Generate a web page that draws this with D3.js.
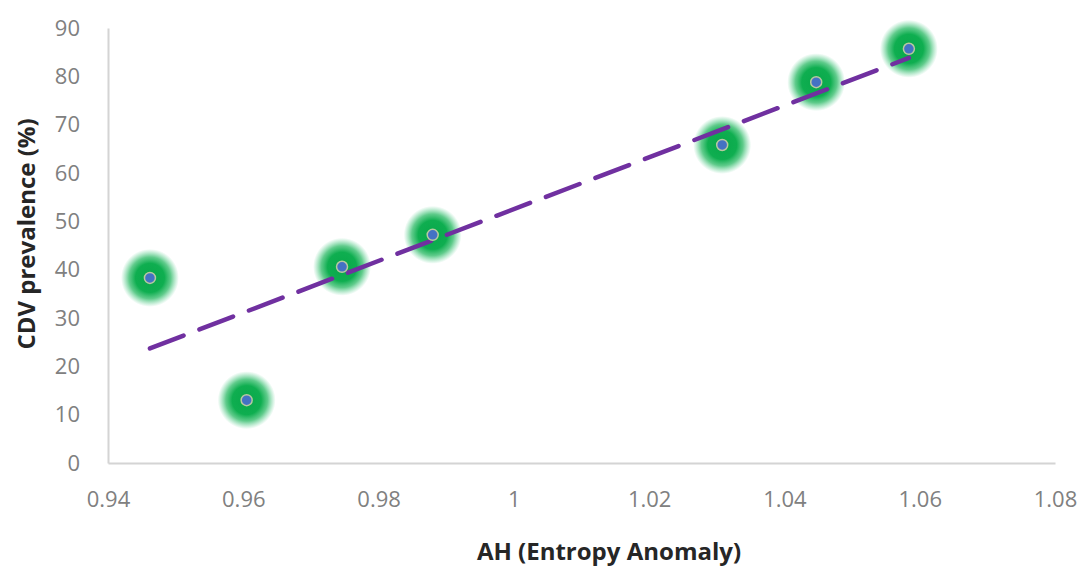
<!DOCTYPE html>
<html>
<head>
<meta charset="utf-8">
<script src="https://cdn.jsdelivr.net/npm/d3@7"></script>
<style>
  body { margin: 0; background: #fff; }
  text { font-family: "Open Sans", "Liberation Sans", sans-serif; }
</style>
</head>
<body>
<div id="chart"></div>
<script>
// AH (entropy anomaly) vs CDV prevalence
const ahValues = [0.9462, 0.9605, 0.9746, 0.9880, 1.0308, 1.0447, 1.0584];
const cdvValues = [38.3, 13.0, 40.6, 47.2, 65.8, 78.8, 85.7];
const xTicks = [0.94, 0.96, 0.98, 1, 1.02, 1.04, 1.06, 1.08];
const yTicks = [0, 10, 20, 30, 40, 50, 60, 70, 80, 90];

const width = 1091, height = 567;
const margin = { left: 108, right: 36, top: 28, bottom: 104 };

const svg = d3.select('#chart').append('svg')
  .attr('width', width)
  .attr('height', height);

const x = d3.scaleLinear().domain([0.94, 1.08]).range([margin.left, width - margin.right]);
const y = d3.scaleLinear().domain([0, 90]).range([height - margin.bottom, margin.top]);

// glow for the markers
const defs = svg.append('defs');
const grad = defs.append('radialGradient').attr('id', 'glow');
grad.append('stop').attr('offset', '0%').attr('stop-color', '#08a84a');
grad.append('stop').attr('offset', '50%').attr('stop-color', '#0fae50');
grad.append('stop').attr('offset', '72%').attr('stop-color', '#1cb55a').attr('stop-opacity', 0.7);
grad.append('stop').attr('offset', '100%').attr('stop-color', '#40c880').attr('stop-opacity', 0);

// axes
const xAxis = svg.append('g')
  .attr('transform', `translate(0,${y(0)})`)
  .call(d3.axisBottom(x).tickValues(xTicks).tickSize(0).tickPadding(28).tickFormat(d3.format('')));
const yAxis = svg.append('g')
  .attr('transform', `translate(${x(0.94)},0)`)
  .call(d3.axisLeft(y).tickValues(yTicks).tickSize(0).tickPadding(28));

[xAxis, yAxis].forEach(ax => {
  ax.select('.domain').attr('stroke', '#d4d4d4').attr('stroke-width', 2);
  ax.selectAll('text').attr('fill', '#808080').style('font-size', '22px');
});

// points
const pts = ahValues.map((v, i) => ({ x: v, y: cdvValues[i] }));

svg.append('g').selectAll('circle')
  .data(pts)
  .enter().append('circle')
  .attr('cx', d => x(d.x))
  .attr('cy', d => y(d.y))
  .attr('r', 29)
  .attr('fill', 'url(#glow)');

// linear trendline (least squares)
const mx = d3.mean(pts, d => d.x), my = d3.mean(pts, d => d.y);
const slope = d3.sum(pts, d => (d.x - mx) * (d.y - my)) / d3.sum(pts, d => (d.x - mx) ** 2);
const x0 = d3.min(ahValues), x1 = d3.max(ahValues);
svg.append('line')
  .attr('x1', x(x0)).attr('y1', y(my + slope * (x0 - mx)))
  .attr('x2', x(x1)).attr('y2', y(my + slope * (x1 - mx)))
  .attr('stroke', '#7030a0')
  .attr('stroke-width', 4.5)
  .attr('stroke-linecap', 'round')
  .attr('stroke-dasharray', '36 17');

svg.append('g').selectAll('circle')
  .data(pts)
  .enter().append('circle')
  .attr('cx', d => x(d.x))
  .attr('cy', d => y(d.y))
  .attr('r', 5.5)
  .attr('fill', '#4472c4')
  .attr('stroke', '#b8c9a0')
  .attr('stroke-width', 1.5);

// axis titles
svg.append('text')
  .attr('x', 609).attr('y', 560)
  .attr('text-anchor', 'middle')
  .attr('fill', '#262626')
  .style('font-size', '24px').style('font-weight', 'bold')
  .text('AH (Entropy Anomaly)');

svg.append('text')
  .attr('transform', `translate(35,234) rotate(-90)`)
  .attr('text-anchor', 'middle')
  .attr('fill', '#262626')
  .style('font-size', '24px').style('font-weight', 'bold')
  .text('CDV prevalence (%)');
</script>
</body>
</html>
